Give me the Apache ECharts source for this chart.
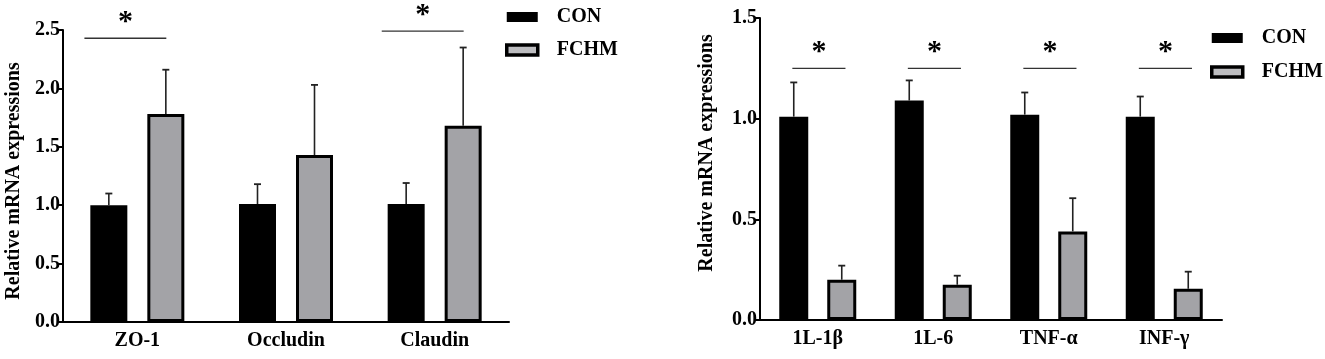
<!DOCTYPE html>
<html>
<head>
<meta charset="utf-8">
<script src="https://cdn.jsdelivr.net/npm/echarts@6/dist/echarts.min.js"></script>
<style>
html,body{margin:0;padding:0;background:#fff;}
#c{width:1325px;height:359px;}
</style>
</head>
<body>
<div id="c"></div>
<script>
// ---- Data ----
const leftCategories = ['ZO-1', 'Occludin', 'Claudin'];
const leftCON = [1.00, 1.01, 1.01];
const leftCONsd = [0.10, 0.17, 0.18];
const leftFCHM = [1.78, 1.43, 1.68];
const leftFCHMsd = [0.38, 0.60, 0.67];
const leftSig = [[0, 2.43], [2, 2.49]]; // [category index, line level]

const rightCategories = ['1L-1β', '1L-6', 'TNF-α', 'INF-γ'];
const rightCON = [1.01, 1.09, 1.02, 1.01];
const rightCONsd = [0.17, 0.10, 0.11, 0.10];
const rightFCHM = [0.20, 0.175, 0.44, 0.155];
const rightFCHMsd = [0.07, 0.045, 0.165, 0.085];
const rightSig = [[0, 1.25], [1, 1.25], [2, 1.25], [3, 1.25]];

const seriesNames = ['CON', 'FCHM'];
const yName = 'Relative mRNA expressions';

// ---- Styles ----
const FONT = 'Liberation Serif';
const GRAY = '#a3a3a7';

const chart = echarts.init(document.getElementById('c'), null, {renderer: 'canvas'});

function errorSeries(gridIdx, means, sds, offsetPx, capHalf) {
  return {
    type: 'custom', xAxisIndex: gridIdx, yAxisIndex: gridIdx, z: 5, silent: true,
    data: means.map((m, i) => [i, m, m + sds[i]]),
    renderItem: function (params, api) {
      const base = api.coord([api.value(0), api.value(1)]);
      const top = api.coord([api.value(0), api.value(2)]);
      const x = base[0] + offsetPx;
      return {
        type: 'group',
        children: [
          {type: 'line', shape: {x1: x, y1: base[1], x2: x, y2: top[1]}, style: {stroke: '#222', lineWidth: 1.6}},
          {type: 'line', shape: {x1: x - capHalf, y1: top[1], x2: x + capHalf, y2: top[1]}, style: {stroke: '#222', lineWidth: 1.8}}
        ]
      };
    }
  };
}

function sigSeries(gridIdx, sig, fromFrac, toFrac, starFrac) {
  return {
    type: 'custom', xAxisIndex: gridIdx, yAxisIndex: gridIdx, z: 5, silent: true,
    data: sig,
    renderItem: function (params, api) {
      const p = api.coord([api.value(0), api.value(1)]);
      const w = api.size([1, 0])[0];
      return {
        type: 'group',
        children: [
          {type: 'line', shape: {x1: p[0] + fromFrac * w, y1: p[1], x2: p[0] + toFrac * w, y2: p[1]}, style: {stroke: '#333', lineWidth: 1.4}},
          {type: 'text', style: {text: '*', x: p[0] + starFrac * w, y: p[1] - 1, align: 'center', verticalAlign: 'bottom', font: 'bold 30px ' + FONT, fill: '#000'}}
        ]
      };
    }
  };
}

function xAxisCfg(gridIdx, cats) {
  return {
    type: 'category', gridIndex: gridIdx, data: cats,
    axisLine: {lineStyle: {color: '#000', width: 2}},
    axisTick: {alignWithLabel: true, length: 5, lineStyle: {color: '#000', width: 2}},
    axisLabel: {color: '#000', fontFamily: FONT, fontWeight: 'bold', fontSize: 20, margin: 9}
  };
}

function yAxisCfg(gridIdx, max, nameGap, namePad) {
  return {
    type: 'value', gridIndex: gridIdx, min: 0, max: max, interval: 0.5,
    name: yName, nameLocation: 'middle', nameGap: nameGap, nameRotate: 90,
    nameTextStyle: {color: '#000', fontFamily: FONT, fontWeight: 'bold', fontSize: 20, padding: namePad},
    axisLine: {show: true, lineStyle: {color: '#000', width: 2}},
    axisTick: {show: true, length: 5, lineStyle: {color: '#000', width: 2}},
    splitLine: {show: false},
    axisLabel: {color: '#000', fontFamily: FONT, fontWeight: 'bold', fontSize: 20, margin: 3,
      formatter: v => v.toFixed(1)}
  };
}

function barPair(gridIdx, con, fchm, barWidth, gap) {
  return [
    {name: 'CON', type: 'bar', xAxisIndex: gridIdx, yAxisIndex: gridIdx, data: con,
      barWidth: barWidth, barGap: gap, itemStyle: {color: '#000'}},
    {name: 'FCHM', type: 'bar', xAxisIndex: gridIdx, yAxisIndex: gridIdx, data: fchm,
      barWidth: barWidth, barGap: gap, itemStyle: {color: GRAY, borderColor: '#000', borderWidth: 3}}
  ];
}

function legendCfg(left, top, w, gap) {
  return {
    orient: 'vertical', left: left, top: top, itemWidth: w, itemHeight: 10, itemGap: gap,
    icon: 'rect', selectedMode: false,
    data: [{name: 'CON'}, {name: 'FCHM', itemStyle: {borderWidth: 3.5, color: '#bdbdc0'}}],
    textStyle: {color: '#000', fontFamily: FONT, fontWeight: 'bold', fontSize: 20, padding: [0, 0, 0, 14]}
  };
}

const LBW = 37, LGAP = 20, RBW = 29, RGAP = 19;
const option = {
  backgroundColor: '#fff',
  animation: false,
  grid: [
    {left: 63, top: 30, width: 446, bottom: 37},
    {left: 760, top: 18, width: 462, bottom: 39}
  ],
  xAxis: [xAxisCfg(0, leftCategories), xAxisCfg(1, rightCategories)],
  yAxis: [yAxisCfg(0, 2.5, 39, [0, 10, 0, 0]), yAxisCfg(1, 1.5, 43, [0, 0, 0, 32])],
  legend: [legendCfg(500, 2, 31, 13), legendCfg(1205, 23, 31, 14)],
  series: [
    ...barPair(0, leftCON, leftFCHM, LBW, (LGAP / LBW * 100) + '%'),
    errorSeries(0, leftCON, leftCONsd, -(LBW + LGAP) / 2, 3.5),
    errorSeries(0, leftFCHM, leftFCHMsd, (LBW + LGAP) / 2, 3.5),
    sigSeries(0, leftSig, -0.356, 0.195, -0.08),
    ...barPair(1, rightCON, rightFCHM, RBW, (RGAP / RBW * 100) + '%'),
    errorSeries(1, rightCON, rightCONsd, -(RBW + RGAP) / 2, 3.5),
    errorSeries(1, rightFCHM, rightFCHMsd, (RBW + RGAP) / 2, 3.5),
    sigSeries(1, rightSig, -0.22, 0.24, 0.01)
  ]
};
chart.setOption(option);
</script>
</body>
</html>
